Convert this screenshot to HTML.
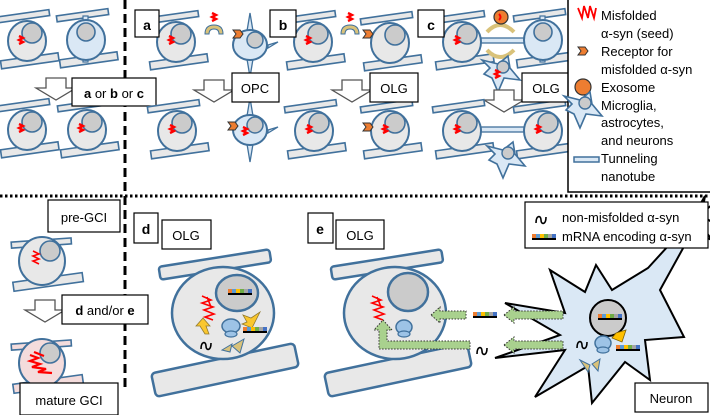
<!DOCTYPE html>
<html><head><meta charset="utf-8"><style>
html,body{margin:0;padding:0;background:#fff}
svg{display:block}
text{font-family:"Liberation Sans",sans-serif;fill:#000}
</style></head><body>
<svg width="710" height="415" viewBox="0 0 710 415" xmlns="http://www.w3.org/2000/svg">
<defs>
<g id="bars">
 <rect x="-26" y="-28" width="52" height="6" fill="#e8e8e8" stroke="#41719c" stroke-width="1.6" transform="rotate(-8)"/>
 <rect x="-29" y="16" width="58" height="8" fill="#e8e8e8" stroke="#41719c" stroke-width="1.6" transform="rotate(-8)"/>
</g>
<g id="cell">
 <use href="#bars"/>
 <ellipse cx="0" cy="0" rx="19" ry="20" fill="#e8e8e8" stroke="#41719c" stroke-width="2"/>
 <circle cx="5" cy="-8" r="10" fill="#cbcbcb" stroke="#41719c" stroke-width="1.6"/>
</g>
<g id="bcell">
 <use href="#bars"/>
 <rect x="-3" y="-24" width="5" height="6" fill="#dae8f5" stroke="#41719c" stroke-width="1.2"/>
 <rect x="-3" y="15" width="5" height="7" fill="#dae8f5" stroke="#41719c" stroke-width="1.2"/>
 <ellipse cx="0" cy="0" rx="19" ry="20" fill="#dae8f5" stroke="#41719c" stroke-width="2"/>
 <circle cx="0" cy="-8" r="9" fill="#cbcbcb" stroke="#41719c" stroke-width="1.6"/>
</g>
<g id="seed"><path d="M-2,-4 l4,2 l-4,2 l4,2 l-4,2" stroke="#f00" stroke-width="2.4" fill="none"/></g>
<g id="opc">
 <polygon points="0,-32 3,-14 -3,-14" fill="#dae8f5" stroke="#41719c" stroke-width="1.3"/>
 <polygon points="0,32 3,14 -3,14" fill="#dae8f5" stroke="#41719c" stroke-width="1.3"/>
 <polygon points="18,0 28,-3 18,3" fill="#dae8f5" stroke="#41719c" stroke-width="1.3"/>
 <ellipse cx="0" cy="0" rx="17" ry="15" fill="#dae8f5" stroke="#41719c" stroke-width="2"/>
 <circle cx="5" cy="-5" r="8" fill="#cbcbcb" stroke="#41719c" stroke-width="1.5"/>
</g>
<g id="rec"><polygon points="-5,-4 2,-4 5,0 2,4 -5,4 -2,0" fill="#ed7d31" stroke="#333" stroke-width="1"/></g>
<g id="cap"><path d="M-9,4 Q-9,-5 0,-5 Q9,-5 9,4 L5,4 Q5,-1 0,-1 Q-5,-1 -5,4 Z" fill="#d9c27a" stroke="#41719c" stroke-width="1"/></g>
<g id="micro">
 <polygon points="-18,-12 -2,-8 8,-16 10,-4 20,8 4,6 -2,20 -8,6 -16,2 -10,-4" fill="#dae8f5" stroke="#41719c" stroke-width="1.6"/>
 <circle cx="3" cy="-5" r="6" fill="#cbcbcb" stroke="#41719c" stroke-width="1.4"/>
</g>
<g id="mrna">
 <rect x="0" y="0" width="4" height="4" fill="#ed7d31"/><rect x="4" y="0" width="4" height="4" fill="#5b9bd5"/><rect x="8" y="0" width="4" height="4" fill="#ffc000"/><rect x="12" y="0" width="4" height="4" fill="#70ad47"/><rect x="16" y="0" width="4" height="4" fill="#a5a5a5"/><rect x="20" y="0" width="4" height="4" fill="#4472c4"/>
 <rect x="0" y="4" width="24" height="2" fill="#000"/>
</g>
<g id="hollow"><path d="M-10,-10 L10,-10 L10,0 L20,0 L0,12 L-20,0 L-10,0 Z" fill="#fff" stroke="#555" stroke-width="1.3"/></g>
</defs>

<line x1="125" y1="0" x2="125" y2="392" stroke="#000" stroke-width="3" stroke-dasharray="9,5"/>
<line x1="0" y1="196" x2="710" y2="196" stroke="#000" stroke-width="3" stroke-dasharray="2.5,2.5"/>

<!-- left column -->
<use href="#cell" x="27" y="41"/><use href="#seed" x="21" y="40"/>
<use href="#bcell" x="86" y="40"/>
<use href="#hollow" x="56" y="88"/>
<use href="#cell" x="27" y="130"/><use href="#seed" x="21" y="128"/>
<use href="#cell" x="87" y="130"/><use href="#seed" x="81" y="128"/>
<rect x="72" y="78" width="84" height="28" fill="#fff" stroke="#000" stroke-width="1.2"/>
<text x="114" y="98" font-size="13" text-anchor="middle"><tspan font-weight="bold">a</tspan> or <tspan font-weight="bold">b</tspan> or <tspan font-weight="bold">c</tspan></text>

<!-- a -->
<use href="#cell" x="176" y="42"/><use href="#seed" x="171" y="40"/>
<use href="#cap" x="214" y="30"/><use href="#seed" x="214" y="17"/>
<use href="#opc" x="250" y="45"/><use href="#rec" x="238" y="34"/>
<use href="#hollow" x="214" y="90"/>
<use href="#cell" x="177" y="131"/><use href="#seed" x="172" y="129"/>
<use href="#opc" x="250" y="130"/><use href="#rec" x="233" y="126"/><use href="#seed" x="245" y="131"/>
<rect x="135" y="10" width="24" height="27" fill="#fff" stroke="#000" stroke-width="1.2"/>
<text x="147" y="30" font-size="14" font-weight="bold" text-anchor="middle">a</text>
<rect x="232" y="73" width="47" height="29" fill="#fff" stroke="#000" stroke-width="1.2"/>
<text x="255" y="93" font-size="13" text-anchor="middle">OPC</text>

<!-- b -->
<use href="#cell" x="313" y="42"/><use href="#seed" x="308" y="40"/>
<use href="#cap" x="350" y="30"/><use href="#seed" x="350" y="17"/>
<use href="#cell" x="390" y="43"/><use href="#rec" x="368" y="34"/>
<use href="#hollow" x="352" y="90"/>
<use href="#cell" x="314" y="131"/><use href="#seed" x="309" y="129"/>
<use href="#cell" x="390" y="131"/><use href="#rec" x="368" y="127"/><use href="#seed" x="385" y="129"/>
<rect x="270" y="10" width="26" height="27" fill="#fff" stroke="#000" stroke-width="1.2"/>
<text x="283" y="30" font-size="14" font-weight="bold" text-anchor="middle">b</text>
<rect x="370" y="73" width="48" height="29" fill="#fff" stroke="#000" stroke-width="1.2"/>
<text x="394" y="93" font-size="13" text-anchor="middle">OLG</text>

<!-- c -->
<rect x="475" y="38" width="54" height="5" fill="#dae8f5" stroke="#41719c" stroke-width="1.3"/>
<use href="#cell" x="462" y="42"/><use href="#seed" x="457" y="40"/>
<use href="#bcell" x="543" y="40"/>
<path d="M487,32 Q500,18 514,32" fill="none" stroke="#d9c27a" stroke-width="4"/>
<path d="M487,50 Q500,64 514,50" fill="none" stroke="#d9c27a" stroke-width="4"/>
<circle cx="501" cy="17" r="7" fill="#ed7d31" stroke="#333" stroke-width="1.2"/>
<path d="M499,14 q3,3 0,6" stroke="#f00" stroke-width="2" fill="none"/>
<use href="#micro" x="500" y="72"/><use href="#seed" x="497" y="74"/>
<use href="#hollow" x="504" y="100"/>
<rect x="475" y="127" width="54" height="5" fill="#dae8f5" stroke="#41719c" stroke-width="1.3"/>
<use href="#cell" x="462" y="131"/><use href="#seed" x="457" y="129"/>
<use href="#cell" x="543" y="131"/><use href="#seed" x="538" y="129"/>
<use href="#micro" x="505" y="158"/>
<rect x="418" y="10" width="26" height="27" fill="#fff" stroke="#000" stroke-width="1.2"/>
<text x="431" y="30" font-size="14" font-weight="bold" text-anchor="middle">c</text>
<rect x="522" y="73" width="48" height="29" fill="#fff" stroke="#000" stroke-width="1.2"/>
<text x="546" y="93" font-size="13" text-anchor="middle">OLG</text>

<!-- legend top -->
<rect x="568" y="-2" width="145" height="194" fill="#fff" stroke="#000" stroke-width="1.5"/>
<path d="M578,8 l4,10 l2,-12 l4,12 l2,-12 l4,12 l2,-10" stroke="#f00" stroke-width="1.8" fill="none"/>
<use href="#rec" x="583" y="51"/>
<circle cx="583" cy="87" r="8" fill="#ed7d31" stroke="#333" stroke-width="1.2"/>
<use href="#micro" x="582" y="108"/>
<rect x="574" y="157" width="25" height="5" fill="#dae8f5" stroke="#41719c" stroke-width="1.5"/>
<g font-size="13">
<text x="601" y="20">Misfolded</text><text x="601" y="38">α-syn (seed)</text>
<text x="601" y="56">Receptor for</text><text x="601" y="74">misfolded α-syn</text>
<text x="601" y="92">Exosome</text><text x="601" y="110">Microglia,</text>
<text x="601" y="127">astrocytes,</text><text x="601" y="145">and neurons</text>
<text x="601" y="163">Tunneling</text><text x="601" y="181">nanotube</text>
</g>

<!-- bottom left -->
<g transform="translate(42,253)">
 <rect x="-30" y="-13" width="60" height="6" fill="#e8e8e8" stroke="#41719c" stroke-width="1.6" transform="rotate(-4)"/>
 <rect x="-33" y="25" width="70" height="9" fill="#e8e8e8" stroke="#41719c" stroke-width="1.6" transform="rotate(-8)"/>
 <ellipse cx="0" cy="8" rx="23" ry="24" fill="#e8e8e8" stroke="#41719c" stroke-width="2"/>
 <circle cx="8" cy="-2" r="10" fill="#cbcbcb" stroke="#41719c" stroke-width="1.6"/>
 <path d="M-9,-2 l6,3 l-6,2 l6,3 l-6,2 l6,3" stroke="#f00" stroke-width="1.6" fill="none"/>
</g>
<use href="#hollow" x="45" y="310"/>
<g transform="translate(42,355)">
 <rect x="-30" y="-13" width="60" height="6" fill="#f4dcdc" stroke="#41719c" stroke-width="1.6" transform="rotate(-4)"/>
 <rect x="-33" y="25" width="70" height="9" fill="#f4dcdc" stroke="#41719c" stroke-width="1.6" transform="rotate(-8)"/>
 <ellipse cx="0" cy="8" rx="23" ry="24" fill="#f4dcdc" stroke="#41719c" stroke-width="2"/>
 <circle cx="8" cy="-2" r="10" fill="#cbcbcb" stroke="#41719c" stroke-width="1.6"/>
 <path d="M-12,0 l8,3 l-8,3 l10,3 l-8,3 l14,2 l-8,3 l14,1 M-8,-3 l10,4" stroke="#f00" stroke-width="2.2" fill="none"/>
</g>
<rect x="48" y="200" width="72" height="32" fill="#fff" stroke="#000" stroke-width="1.2"/>
<text x="84" y="222" font-size="13" text-anchor="middle">pre-GCI</text>
<rect x="62" y="295" width="86" height="29" fill="#fff" stroke="#000" stroke-width="1.2"/>
<text x="105" y="315" font-size="13" text-anchor="middle"><tspan font-weight="bold">d</tspan> and/or <tspan font-weight="bold">e</tspan></text>
<rect x="20" y="383" width="98" height="32" fill="#fff" stroke="#000" stroke-width="1.2"/>
<text x="69" y="405" font-size="13" text-anchor="middle">mature GCI</text>

<!-- d -->
<rect x="159" y="258" width="112" height="13" rx="3" fill="#e8e8e8" stroke="#41719c" stroke-width="2.5" transform="rotate(-9 215 265)"/>
<rect x="152" y="358" width="146" height="24" rx="4" fill="#e8e8e8" stroke="#41719c" stroke-width="2.5" transform="rotate(-12 225 370)"/>
<ellipse cx="223" cy="313" rx="51" ry="46" fill="#e8e8e8" stroke="#41719c" stroke-width="2.5"/>
<ellipse cx="237" cy="293" rx="21" ry="18" fill="#cbcbcb" stroke="#41719c" stroke-width="2.5"/>
<use href="#mrna" x="228" y="289"/>
<path d="M202,296 l9,4 l-9,3 l11,4 l-9,3 l10,4 l-9,3 l8,3 M207,297 l4,10" stroke="#f00" stroke-width="1.6" fill="none"/>
<polygon points="205,334 200,326 196,326 203,318 210,326 206,326 209,334" fill="#ffc000" stroke="#7f6000" stroke-width="0.8" opacity="0.8"/>
<polygon points="251,318 260,312 252,328 242,324 247,322 243,315" fill="#ffc000" stroke="#7f6000" stroke-width="0.8" opacity="0.8"/>
<ellipse cx="231" cy="326" rx="9" ry="7" fill="#9dc3e6" stroke="#41719c" stroke-width="1.5"/>
<ellipse cx="231" cy="334" rx="6" ry="3" fill="#9dc3e6" stroke="#41719c" stroke-width="1.2"/>
<use href="#mrna" x="243" y="327"/>
<path d="M201,349 c0,-8 5,-8 5,-3 s5,5 5,-3" stroke="#000" stroke-width="1.6" fill="none"/>
<path d="M222,350 l10,-6 l-2,8 Z M232,346 l12,-7 l-4,14 Z" fill="#d9c27a" stroke="#41719c" stroke-width="1"/>
<rect x="134" y="213" width="24" height="30" fill="#fff" stroke="#000" stroke-width="1.2"/>
<text x="146" y="234" font-size="14" font-weight="bold" text-anchor="middle">d</text>
<rect x="162" y="220" width="49" height="29" fill="#fff" stroke="#000" stroke-width="1.2"/>
<text x="186" y="240" font-size="13" text-anchor="middle">OLG</text>

<!-- e -->
<rect x="331" y="258" width="112" height="13" rx="3" fill="#e8e8e8" stroke="#41719c" stroke-width="2.5" transform="rotate(-9 387 265)"/>
<rect x="325" y="358" width="146" height="24" rx="4" fill="#e8e8e8" stroke="#41719c" stroke-width="2.5" transform="rotate(-12 398 370)"/>
<ellipse cx="395" cy="313" rx="51" ry="46" fill="#e8e8e8" stroke="#41719c" stroke-width="2.5"/>
<ellipse cx="408" cy="292" rx="20" ry="19" fill="#cbcbcb" stroke="#41719c" stroke-width="2.5"/>
<path d="M372,296 l9,4 l-9,3 l11,4 l-9,3 l10,4 l-9,3 l8,3 M377,297 l4,10" stroke="#f00" stroke-width="1.6" fill="none"/>
<ellipse cx="404" cy="327" rx="8" ry="7" fill="#9dc3e6" stroke="#41719c" stroke-width="1.5"/>
<ellipse cx="404" cy="334" rx="6" ry="3" fill="#9dc3e6" stroke="#41719c" stroke-width="1.2"/>
<rect x="325" y="215" width="0" height="0"/>

<!-- neuron (drawn before arrows so arrows overlay) -->
<polygon points="505,303 565,313 550,270 585,292 596,265 612,290 648,268 690,222 705,196 700,224 712,240 692,232 660,290 684,337 645,340 650,380 625,362 592,403 588,366 535,397 565,350 495,358 560,335" fill="#dae8f5" stroke="#000" stroke-width="2" stroke-linejoin="miter"/>
<path d="M690,222 L712,205 M700,215 L712,222" stroke="#000" stroke-width="2"/>
<circle cx="608" cy="318" r="18" fill="#cbcbcb" stroke="#000" stroke-width="2"/>
<use href="#mrna" x="598" y="314"/>
<polygon points="616,333 626,330 622,342 612,338" fill="#ffc000" stroke="#7f6000" stroke-width="0.8"/>
<ellipse cx="603" cy="343" rx="8" ry="7" fill="#9dc3e6" stroke="#41719c" stroke-width="1.5"/>
<ellipse cx="603" cy="350" rx="6" ry="3" fill="#9dc3e6" stroke="#41719c" stroke-width="1.2"/>
<use href="#mrna" x="616" y="345"/>
<path d="M577,348 c0,-8 5,-8 5,-3 s5,5 5,-3" stroke="#000" stroke-width="1.6" fill="none"/>
<path d="M580,360 l10,5 l-2,7 Z M592,364 l8,-5 l-2,12 Z" fill="#d9c27a" stroke="#41719c" stroke-width="1"/>

<g fill="#a9d18e" stroke="#333" stroke-width="1" stroke-dasharray="1.5,1.5">
 <polygon points="431,315 440,307 440,311 466,311 466,319 440,319 440,323"/>
 <polygon points="504,315 514,307 514,311 563,311 563,319 514,319 514,323"/>
 <polygon points="504,345 514,337 514,341 563,341 563,349 514,349 514,353"/>
 <polygon points="470,341 387,341 387,330 392,330 383,320 374,330 379,330 379,349 470,349"/>
</g>
<use href="#mrna" x="473" y="312"/>
<path d="M477,354 c0,-8 5,-8 5,-3 s5,5 5,-3" stroke="#000" stroke-width="1.6" fill="none"/>
<rect x="308" y="213" width="25" height="30" fill="#fff" stroke="#000" stroke-width="1.2"/>
<text x="320" y="234" font-size="14" font-weight="bold" text-anchor="middle">e</text>
<rect x="336" y="220" width="48" height="29" fill="#fff" stroke="#000" stroke-width="1.2"/>
<text x="360" y="240" font-size="13" text-anchor="middle">OLG</text>

<rect x="635" y="383" width="73" height="29" fill="#fff" stroke="#000" stroke-width="1.2"/>
<text x="671" y="403" font-size="13" text-anchor="middle">Neuron</text>

<!-- legend bottom -->
<rect x="525" y="202" width="183" height="46" fill="#fff" stroke="#000" stroke-width="1.2"/>
<path d="M536,223 c0,-8 5,-8 5,-3 s5,5 5,-3" stroke="#000" stroke-width="1.6" fill="none"/>
<use href="#mrna" x="532" y="234"/>
<text x="562" y="222" font-size="13">non-misfolded α-syn</text>
<text x="562" y="241" font-size="13">mRNA encoding α-syn</text>
</svg>
</body></html>
